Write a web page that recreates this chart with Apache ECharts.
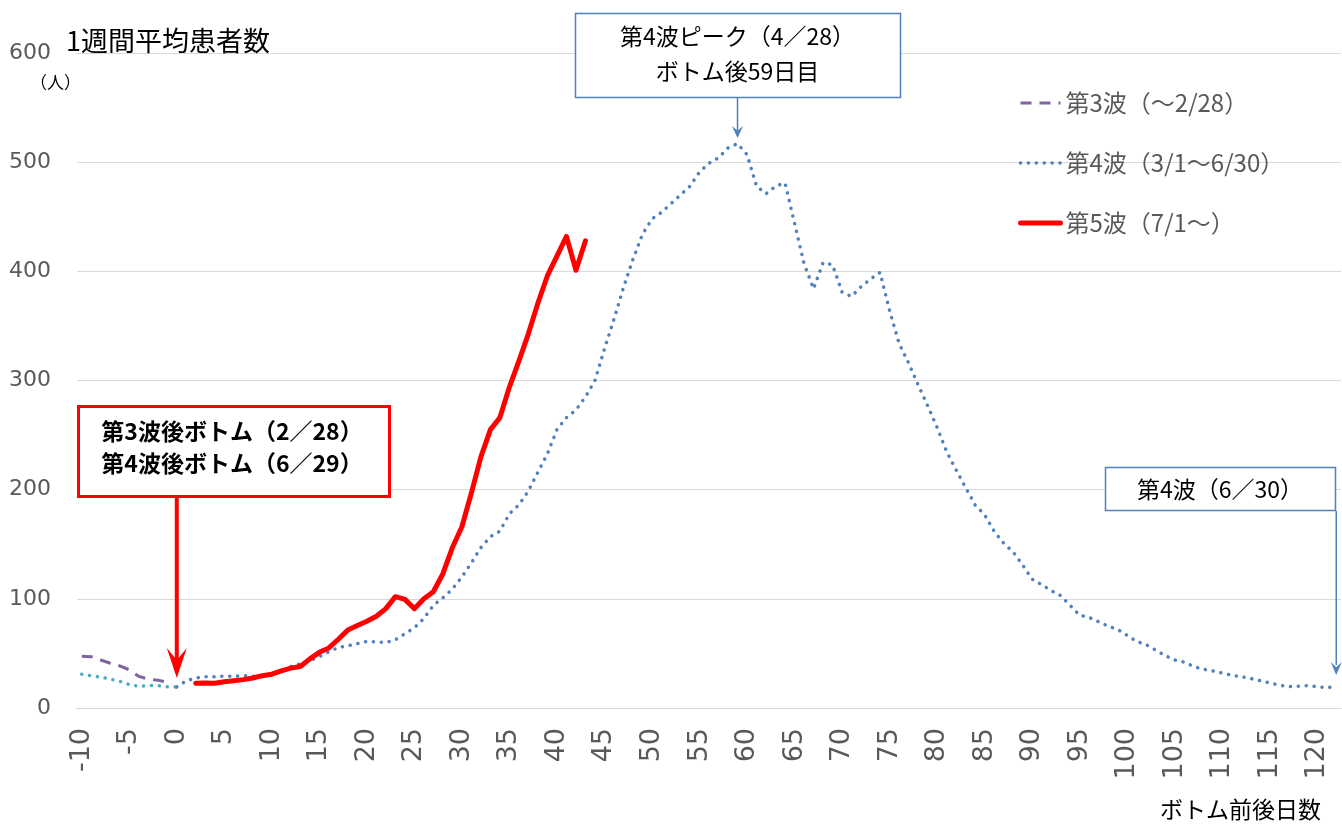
<!DOCTYPE html>
<html><head><meta charset="utf-8">
<script src="https://cdn.jsdelivr.net/npm/echarts@6/dist/echarts.min.js"></script>
<style>html,body{margin:0;padding:0;background:#fff}#c{width:1342px;height:825px}</style>
</head><body><div id="c"></div>
<script>
// Category axis: days before/after the bottom
const firstDay = -10, lastDay = 122;
const days = [];
for (let d = firstDay; d <= lastDay; d++) days.push(String(d));

// 第3波 (～2/28), days -10..-1
const wave3Start = -10;
const wave3Values = [47.5, 47, 44, 41, 38.5, 35, 29, 26.5, 25.5, 23.5];

// pre-bottom segment of the 4th-wave series (teal), days -10..0
const preStart = -10;
const preValues = [31, 29.5, 28.3, 26.5, 24.5, 21.5, 19.8, 20.5, 20.5, 19.5, 19.3];

// 第4波 (3/1～6/30), days 0..122
const wave4Start = 0;
const wave4Values = [
  19.3, 25, 27.5, 28.7, 28.5, 29.3, 29, 29.8, 29, 28.7,
  30.5, 34, 38, 40.5, 43.5, 47, 51.5, 55.5, 57, 59,
  61, 60.6, 60, 62.5, 68, 73.5, 82, 94, 101, 109,
  120, 133, 147, 157, 162, 178, 186, 199, 216, 233,
  255, 266, 273, 285, 300, 329, 356, 385, 411, 434,
  448, 454, 462, 470, 478, 491, 499, 504, 513, 517,
  507, 478, 471, 478, 481, 444, 407, 384, 408, 406,
  381, 377, 386, 393, 399, 364, 334, 316, 296, 277,
  257, 235, 218, 202, 186, 177, 162, 151, 143, 131,
  118, 113, 107.5, 103, 94, 85, 83, 79, 75, 72,
  66.5, 61, 58, 53, 48, 44, 42, 38, 35.5, 34,
  32, 30, 28.7, 27, 25, 23, 21, 19.5, 20, 20.5,
  19.5, 18.7, 19.5
];

// 第5波 (7/1～), days 2..43
const wave5Start = 2;
const wave5Values = [
  22.6, 22.8, 22.6, 24, 25, 26, 27.5, 29.6, 31, 34,
  36.5, 38, 45, 51, 55, 63, 71.5, 75.5, 79.5, 84,
  91, 102, 99.5, 91, 100, 106.5, 123, 147, 166, 197,
  230, 255, 266, 294, 318, 343, 371, 396, 414, 432,
  401, 428
];

const yTicks = [0, 100, 200, 300, 400, 500, 600];

function place(start, vals) {
  const arr = days.map(() => null);
  vals.forEach((v, i) => { arr[start - firstDay + i] = v; });
  return arr;
}

const JP = '"Noto Sans CJK JP", "Noto Sans", sans-serif';
const NUM = '"DejaVu Sans", "Noto Sans", sans-serif';

const PURPLE = '#8064A2', TEAL = '#4BACC6', BLUE = '#4F81BD', RED = '#FF0000';
const dashStyle = {color: PURPLE, width: 3, type: [11, 8]};
const dotStyle = (c) => ({color: c, width: 3.5, type: [0.1, 7.8], cap: 'round'});
const redStyle = {color: RED, width: 5, cap: 'round', join: 'round'};

const chart = echarts.init(document.getElementById('c'), null, {renderer: 'canvas'});
const option = {
  animation: false,
  backgroundColor: '#ffffff',
  grid: {left: 77, right: 1, top: 53, bottom: 117, containLabel: false},
  legend: {
    data: [
      {name: '第3波（～2/28）', lineStyle: dashStyle},
      {name: '第4波（3/1～6/30）', lineStyle: dotStyle(BLUE)},
      {name: '第5波（7/1～）', lineStyle: {color: RED, width: 5, cap: 'round'}}
    ],
    orient: 'vertical',
    left: 1013, top: 86,
    itemWidth: 40, itemHeight: 14, itemGap: 36,
    itemStyle: {opacity: 0},
    textStyle: {fontFamily: JP, fontSize: 24, color: '#595959'}
  },
  xAxis: {
    type: 'category',
    data: days,
    boundaryGap: true,
    axisLine: {lineStyle: {color: '#d9d9d9', width: 1}},
    axisTick: {show: false},
    axisLabel: {
      interval: 4, rotate: 90, margin: 20,
      fontFamily: NUM, fontSize: 27, color: '#595959'
    },
    splitLine: {show: false}
  },
  yAxis: {
    type: 'value',
    min: yTicks[0], max: yTicks[yTicks.length - 1], interval: 100,
    axisLine: {show: false},
    axisTick: {show: false},
    axisLabel: {margin: 26, fontFamily: NUM, fontSize: 22, color: '#595959'},
    splitLine: {lineStyle: {color: '#d9d9d9', width: 1}}
  },
  series: [
    {
      name: '第3波（～2/28）', type: 'line', data: place(wave3Start, wave3Values),
      symbol: 'none', lineStyle: dashStyle, itemStyle: {color: PURPLE}, z: 3
    },
    {
      name: 'pre', type: 'line', data: place(preStart, preValues),
      symbol: 'none', lineStyle: dotStyle(TEAL), itemStyle: {color: TEAL}, z: 3
    },
    {
      name: '第4波（3/1～6/30）', type: 'line', data: place(wave4Start, wave4Values),
      symbol: 'none', lineStyle: dotStyle(BLUE), itemStyle: {color: BLUE}, z: 3
    },
    {
      name: '第5波（7/1～）', type: 'line', data: place(wave5Start, wave5Values),
      symbol: 'none', lineStyle: redStyle, itemStyle: {color: RED}, z: 4
    }
  ]
};
chart.setOption(option);

// Annotations anchored to the category positions of the axis
const xPeak = chart.convertToPixel({xAxisIndex: 0}, '59');
const xBottom = chart.convertToPixel({xAxisIndex: 0}, '0');
const xEnd = chart.convertToPixel({xAxisIndex: 0}, '122');

function arrowHead(x, yTip, w, h, color) {
  return {
    type: 'polygon', z: 20,
    shape: {points: [[x, yTip], [x - w / 2, yTip - h], [x, yTip - h * 0.6], [x + w / 2, yTip - h]]},
    style: {fill: color}
  };
}
chart.setOption({
  graphic: [
    // titles
    {type: 'text', left: 66, top: 27, z: 20,
     style: {text: '1週間平均患者数', font: '27px ' + JP, fill: '#000'}},
    {type: 'text', left: 30, top: 74, z: 20,
     style: {text: '（人）', font: '17px ' + JP, fill: '#000'}},
    {type: 'text', right: 21, top: 798, z: 20,
     style: {text: 'ボトム前後日数', font: '23px ' + JP, fill: '#000'}},
    // peak box
    {type: 'rect', z: 20, shape: {x: 575.5, y: 13.5, width: 325, height: 84},
     style: {fill: '#fff', stroke: BLUE, lineWidth: 1.5}},
    {type: 'text', z: 21, x: 737.5, y: 36,
     style: {text: '第4波ピーク（4／28）', font: '23px ' + JP, fill: '#000', align: 'center', verticalAlign: 'middle'}},
    {type: 'text', z: 21, x: 737.5, y: 71,
     style: {text: 'ボトム後59日目', font: '23px ' + JP, fill: '#000', align: 'center', verticalAlign: 'middle'}},
    {type: 'line', z: 20, shape: {x1: xPeak, y1: 98, x2: xPeak, y2: 132},
     style: {stroke: BLUE, lineWidth: 1.5}},
    arrowHead(xPeak, 138, 11, 12, BLUE),
    // bottom box (red)
    {type: 'rect', z: 20, shape: {x: 78.5, y: 406.5, width: 311, height: 90},
     style: {fill: '#fff', stroke: RED, lineWidth: 3}},
    {type: 'text', z: 21, x: 232, y: 431,
     style: {text: '第3波後ボトム（2／28）', font: 'bold 23px ' + JP, fill: '#000', align: 'center', verticalAlign: 'middle'}},
    {type: 'text', z: 21, x: 232, y: 463,
     style: {text: '第4波後ボトム（6／29）', font: 'bold 23px ' + JP, fill: '#000', align: 'center', verticalAlign: 'middle'}},
    {type: 'line', z: 20, shape: {x1: xBottom, y1: 498, x2: xBottom, y2: 660},
     style: {stroke: RED, lineWidth: 4}},
    arrowHead(xBottom, 678, 20, 30, RED),
    // end box
    {type: 'rect', z: 20, shape: {x: 1105.5, y: 467.5, width: 230, height: 43},
     style: {fill: '#fff', stroke: BLUE, lineWidth: 1.5}},
    {type: 'text', z: 21, x: 1220, y: 489,
     style: {text: '第4波（6／30）', font: '23px ' + JP, fill: '#000', align: 'center', verticalAlign: 'middle'}},
    {type: 'line', z: 20, shape: {x1: xEnd, y1: 511, x2: xEnd, y2: 665},
     style: {stroke: BLUE, lineWidth: 1.5}},
    arrowHead(xEnd, 675, 11, 13, BLUE)
  ]
});
</script>
</body></html>
